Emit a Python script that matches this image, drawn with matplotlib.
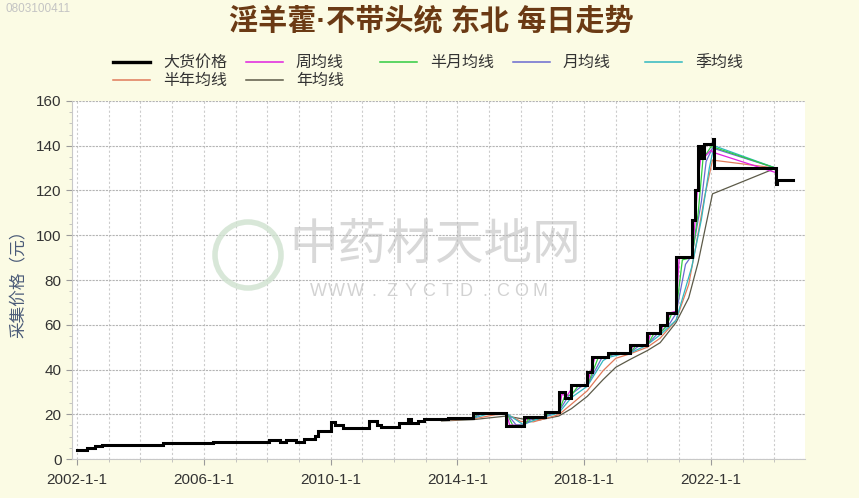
import matplotlib
matplotlib.use('Agg')
import matplotlib.pyplot as plt
from matplotlib.lines import Line2D
from matplotlib.patches import Ellipse
from matplotlib.ticker import MultipleLocator

plt.rcParams['font.family'] = ['Liberation Sans', 'Noto Sans CJK SC', 'DejaVu Sans']

# ---- data (dates as decimal years, values in 元) ----
title = '淫羊藿·不带头统 东北 每日走势'
code_id = '0803100411'
ylabel = '采集价格（元）'
xtick_years = [2002, 2006, 2010, 2014, 2018, 2022]
xtick_labels = ['2002-1-1', '2006-1-1', '2010-1-1', '2014-1-1', '2018-1-1', '2022-1-1']

price_t = [2002.0, 2002.3, 2002.57, 2002.8, 2004.72, 2006.3, 2008.05, 2008.4, 2008.6, 2008.9,
           2009.15, 2009.5, 2009.6, 2010.0, 2010.15, 2010.4, 2011.2, 2011.45, 2011.6, 2012.15,
           2012.45, 2012.55, 2012.75, 2012.95, 2013.7, 2014.5, 2015.55, 2016.1, 2016.75, 2017.2,
           2017.4, 2017.6, 2018.1, 2018.25, 2018.75, 2019.45, 2020.0, 2020.4, 2020.6, 2020.9,
           2021.4, 2021.5, 2021.6, 2021.7, 2021.78, 2022.07, 2022.1, 2024.05, 2024.08, 2024.6]
price_v = [4.1, 5.0, 5.6, 6.4, 7.2, 7.6, 8.6, 7.8, 8.6, 7.8,
           9.0, 10.1, 12.4, 16.5, 15.4, 13.9, 16.8, 15.1, 14.4, 16.2,
           17.7, 16.2, 17.0, 18.0, 18.4, 20.6, 14.7, 18.8, 21.0, 29.9,
           27.4, 33.0, 39.0, 45.7, 47.4, 51.0, 56.3, 59.9, 65.3, 90.3,
           106.8, 120.0, 140.0, 134.5, 141.0, 143.0, 130.0, 123.0, 124.7, 124.7]

week_t = [2013.5, 2014.5, 2014.6, 2015.55, 2015.65, 2016.1, 2016.2, 2016.75, 2016.85, 2017.2,
          2017.3, 2017.45, 2017.65, 2018.1, 2018.2, 2018.25, 2018.35, 2018.75, 2018.85, 2019.45,
          2019.55, 2020.0, 2020.1, 2020.4, 2020.5, 2020.6, 2020.7, 2020.9, 2021.0, 2021.4,
          2021.5, 2021.6, 2021.7, 2021.8, 2022.0, 2022.08, 2024.05]
week_v = [18.0, 18.4, 20.6, 20.6, 15.2, 14.9, 18.8, 18.8, 21.0, 21.0,
          29.0, 28.0, 32.5, 33.0, 39.0, 41.0, 45.7, 45.7, 47.4, 47.4,
          51.0, 51.0, 56.3, 56.3, 59.9, 60.0, 65.3, 66.0, 90.0, 90.3,
          106.0, 125.0, 137.0, 135.0, 138.0, 137.0, 128.0]

half_month_t = [2013.5, 2014.5, 2014.7, 2015.55, 2015.75, 2016.1, 2016.3, 2016.75, 2016.95, 2017.2,
                2017.4, 2017.6, 2017.8, 2018.1, 2018.3, 2018.45, 2018.75, 2018.95, 2019.45, 2019.65,
                2020.0, 2020.2, 2020.4, 2020.6, 2020.75, 2020.9, 2021.1, 2021.4, 2021.6, 2021.75,
                2022.0, 2022.06, 2024.05]
half_month_v = [17.8, 18.4, 20.6, 20.6, 15.0, 15.0, 18.6, 18.8, 21.0, 21.0,
                28.5, 28.5, 32.5, 33.0, 40.0, 45.5, 45.7, 47.4, 47.4, 51.0,
                51.0, 56.0, 56.3, 59.5, 64.5, 65.5, 89.0, 90.0, 110.0, 134.0,
                139.5, 139.5, 130.0]

month_t = [2013.5, 2014.5, 2014.8, 2015.55, 2015.85, 2016.1, 2016.4, 2016.75, 2017.05, 2017.2,
           2017.5, 2017.6, 2017.9, 2018.1, 2018.4, 2018.55, 2018.75, 2019.05, 2019.45, 2019.75,
           2020.0, 2020.3, 2020.4, 2020.7, 2020.9, 2021.2, 2021.4, 2021.7, 2021.85, 2022.05,
           2024.05]
month_v = [17.6, 18.3, 20.5, 20.5, 15.3, 15.2, 18.5, 18.8, 20.8, 21.2,
           28.0, 29.0, 32.3, 33.0, 41.0, 45.0, 45.8, 47.3, 47.5, 50.8,
           51.2, 55.8, 56.5, 60.5, 65.0, 87.0, 91.0, 115.0, 133.0, 139.0,
           130.0]

quarter_t = [2013.5, 2014.5, 2015.0, 2015.55, 2016.05, 2016.1, 2016.6, 2016.75, 2017.2, 2017.6,
             2018.1, 2018.6, 2018.75, 2019.2, 2019.45, 2019.95, 2020.4, 2020.9, 2021.4, 2021.7,
             2021.95, 2022.1, 2024.05]
quarter_v = [17.4, 18.2, 20.3, 20.4, 15.6, 15.5, 18.3, 18.8, 20.6, 27.5,
             32.5, 44.0, 45.3, 47.0, 47.4, 50.6, 55.5, 62.0, 86.0, 107.0,
             130.0, 140.0, 130.0]

half_year_t = [2013.5, 2014.5, 2015.2, 2015.55, 2016.0, 2016.4, 2016.75, 2017.2, 2017.6, 2018.1,
               2018.6, 2019.0, 2019.45, 2020.0, 2020.4, 2020.9, 2021.3, 2021.55, 2021.8, 2022.05,
               2024.05, 2024.1]
half_year_v = [17.3, 17.9, 19.8, 20.1, 16.8, 16.6, 18.0, 19.8, 24.5, 30.5,
               39.5, 45.0, 47.0, 50.0, 54.0, 62.0, 78.0, 97.0, 117.0, 133.6,
               130.0, 129.0]

year_t = [2013.5, 2014.5, 2015.55, 2016.1, 2016.6, 2017.2, 2017.6, 2018.1, 2018.6, 2019.0,
          2019.45, 2020.0, 2020.4, 2020.9, 2021.3, 2021.6, 2021.85, 2022.05, 2024.05]
year_v = [17.0, 17.6, 19.2, 17.8, 17.5, 19.2, 22.5, 28.0, 35.5, 41.0,
          44.5, 48.5, 52.0, 61.0, 72.0, 88.0, 105.0, 118.5, 130.0]

series_names = ['大货价格', '周均线', '半月均线', '月均线', '季均线', '半年均线', '年均线']
series_colors = ['#000000', '#e020e0', '#30cc40', '#6a6ad0', '#30b8c0', '#e07a5a', '#5c5a48']

# ---- figure ----
fig = plt.figure(figsize=(8.59, 4.98), dpi=100, facecolor='#fbfbe4')
ax = fig.add_axes([72 / 859, 1 - 459 / 498, (805 - 72) / 859, (459 - 101) / 498])
ax.set_facecolor('white')

ma_data = [(year_t, year_v, 6), (half_year_t, half_year_v, 5), (quarter_t, quarter_v, 4),
           (month_t, month_v, 3), (half_month_t, half_month_v, 2), (week_t, week_v, 1)]
for t, v, k in ma_data:
    ax.plot(t, v, color=series_colors[k], lw=0.9, zorder=3)
ax.plot(price_t, price_v, color='black', lw=2.2, drawstyle='steps-post', zorder=5,
        solid_joinstyle='miter')

ax.set_xlim(2001.84, 2024.97)
ax.set_ylim(0, 160)
ax.set_xticks(xtick_years)
ax.set_xticklabels(xtick_labels)
ax.xaxis.set_minor_locator(MultipleLocator(1))
ax.yaxis.set_major_locator(MultipleLocator(20))
ax.yaxis.set_minor_locator(MultipleLocator(5))
ax.tick_params(axis='both', which='major', labelsize=11, colors='#9a9a9a', labelcolor='#333333',
               length=4, width=0.8)
ax.tick_params(axis='both', which='minor', colors='#bbbbbb', length=2)
ax.tick_params(axis='x', pad=6)

ax.grid(axis='y', which='major', color='#b4b4b4', ls=(0, (2, 1)), lw=0.8)
ax.grid(axis='x', which='both', color='#cccccc', ls=(0, (2, 2)), lw=0.8)
for s in ['top', 'right']:
    ax.spines[s].set_visible(False)
for s in ['left', 'bottom']:
    ax.spines[s].set_color('#c8c8c8')

ax.set_ylabel(ylabel, family=['Noto Sans CJK SC'], fontsize=12, color='#4a5a78', labelpad=4)
ax.yaxis.set_label_coords(-0.062, 0.5)

# watermark
fig.text(0.507, 0.508, '中药材天地网', family=['Noto Sans CJK SC'], fontsize=35,
         color='#b8b8b8', alpha=0.55, ha='center', va='center', zorder=10)
for i, ch in enumerate('WWW.ZYCTD.COM'):
    fig.text((318 + i * 18.5) / 859, 1 - 292 / 498, ch, fontsize=13, color='#c0c0c0',
             alpha=0.7, ha='center', va='center', zorder=10)
fig.patches.append(Ellipse((248 / 859, 1 - 255 / 498), 66 / 859, 66 / 498, fill=False,
                           ec='#cfe2cf', lw=4, alpha=0.8, transform=fig.transFigure, zorder=10))

# title and id
fig.text(0.502, 0.958, title, family=['Liberation Sans', 'Noto Sans CJK SC'], fontsize=21,
         fontweight='bold', color='#6b3a14', ha='center', va='center')
fig.text(0.006, 0.982, code_id, fontsize=8.5, color='#c4c4c4', ha='left', va='center')

# legend (two rows, fixed column widths)
col_x = [113, 246, 380, 513, 645, 113, 246]
row_y = [62, 62, 62, 62, 62, 80, 80]
for name, c, x, y in zip(series_names, series_colors, col_x, row_y):
    fy = 1 - y / 498
    fig.add_artist(Line2D([x / 859, (x + 37) / 859], [fy, fy], color=c,
                          lw=2.4 if c == '#000000' else 1.1, transform=fig.transFigure))
    fig.text((x + 50) / 859, fy, name, family=['Noto Sans CJK SC'], fontsize=11.5,
             color='#333333', ha='left', va='center')

fig.savefig('out.png', dpi=100, facecolor=fig.get_facecolor())
